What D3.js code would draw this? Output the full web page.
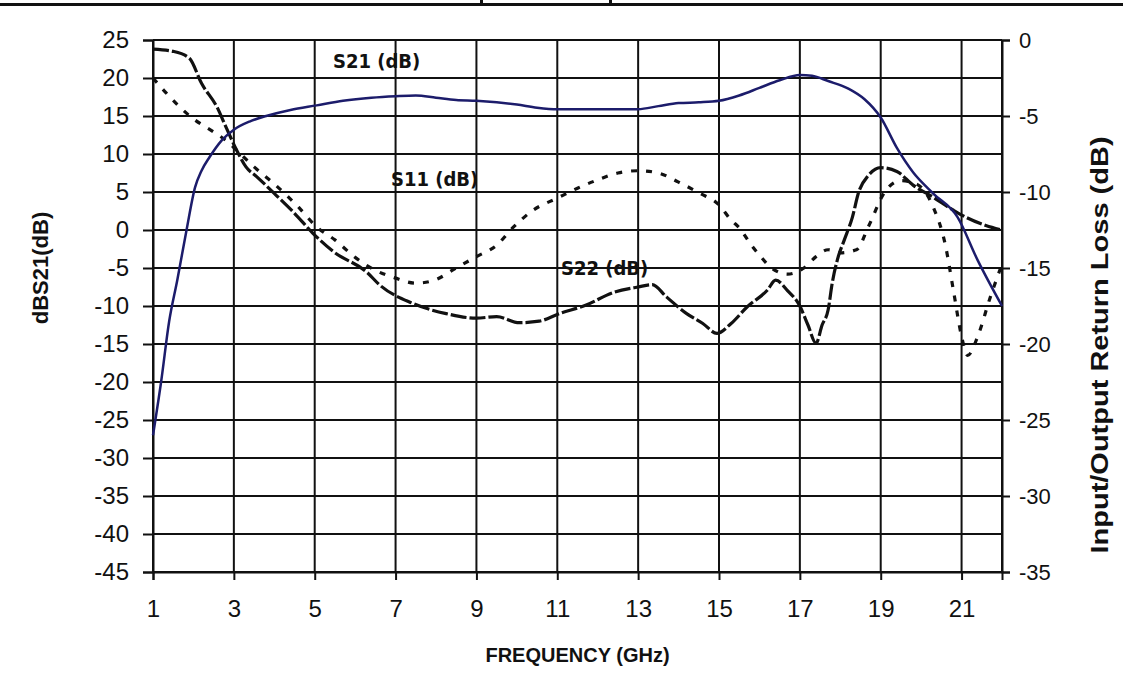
<!DOCTYPE html>
<html>
<head>
<meta charset="utf-8">
<script src="https://cdn.jsdelivr.net/npm/d3@7"></script>
<style>
  body { margin: 0; background: #fff; }
  svg { display: block; }
  .tick text { font-family: "Liberation Sans", Arial, sans-serif; fill: #111; }
  .lbl { font-family: "Liberation Sans", Arial, sans-serif; font-weight: bold; fill: #111; }
  .ann { font-family: "DejaVu Sans Condensed", "DejaVu Sans", sans-serif; font-weight: bold; fill: #111; }
</style>
</head>
<body>
<div id="chart"></div>
<script>
// frequency ticks / axis ticks
const xTicks = [1, 3, 5, 7, 9, 11, 13, 15, 17, 19, 21];
const yLeftTicks = [-45, -40, -35, -30, -25, -20, -15, -10, -5, 0, 5, 10, 15, 20, 25];
const yRightTicks = [-35, -30, -25, -20, -15, -10, -5, 0];

// S21 gain (left axis, dB)
const s21Freq = [1, 1.2, 1.4, 1.6, 1.83, 2.04, 2.2, 2.4, 2.7, 3, 3.4, 3.8, 4.4, 5.05, 5.7, 6.4, 7, 7.5, 8, 8.5, 9, 9.5, 10, 10.5, 11, 12, 13, 13.5, 14, 14.5, 15, 15.5, 16, 16.5, 17, 17.3, 17.7, 18.2, 18.6, 19, 19.4, 19.8, 20.3, 20.9, 21.4, 22];
const s21 = [-27, -20, -12, -6.6, 0, 5.6, 7.8, 9.6, 11.8, 13.2, 14.3, 15, 15.8, 16.4, 17, 17.4, 17.6, 17.7, 17.4, 17.1, 17, 16.8, 16.5, 16.1, 15.9, 15.9, 15.9, 16.3, 16.7, 16.8, 17, 17.7, 18.7, 19.7, 20.4, 20.3, 19.6, 18.6, 17.2, 14.8, 10.8, 7.6, 4.8, 1.7, -4, -10];

// S11 input return loss (right axis, dB)
const s11Freq = [1, 1.33, 1.98, 2.5, 2.8, 3.07, 3.5, 3.97, 4.6, 5.05, 5.5, 6, 6.5, 6.98, 7.5, 7.96, 8.5, 9, 9.5, 9.9, 10.4, 11, 11.5, 12, 12.5, 13, 13.5, 14, 14.5, 15, 15.3, 15.5, 15.8, 16, 16.3, 16.7, 17.1, 17.4, 17.7, 18, 18.4, 18.7, 19.1, 19.5, 19.9, 20.3, 20.6, 20.8, 21, 21.15, 21.4, 21.7, 22];
const s11 = [-2.5, -3.5, -5.15, -6.05, -6.6, -7.25, -8.35, -9.4, -11, -12.3, -13.15, -14.3, -15.15, -15.65, -16, -15.8, -15, -14.25, -13.5, -12.35, -11.2, -10.4, -9.75, -9.2, -8.75, -8.6, -8.75, -9.35, -10.05, -10.85, -11.85, -12.35, -13.5, -14.15, -15, -15.4, -15, -14.25, -13.8, -14, -13.8, -12.25, -10, -9.25, -9.5, -11, -13.5, -16.5, -19.5, -20.75, -19.5, -17, -14.75];

// S22 output return loss (right axis, dB)
const s22Freq = [1, 1.5, 1.9, 2.2, 2.6, 2.8, 3.07, 3.3, 3.57, 4.06, 4.5, 4.95, 5.45, 6.3, 6.6, 7.4, 8.25, 9, 9.5, 10.06, 10.55, 11.05, 11.7, 12.4, 13, 13.35, 13.7, 14.2, 14.6, 14.95, 15.3, 15.7, 16.2, 16.4, 16.7, 17, 17.2, 17.4, 17.55, 17.7, 17.8, 17.95, 18.1, 18.3, 18.45, 18.7, 19, 19.4, 19.8, 20.3, 20.8, 21.1, 21.6, 22];
const s22 = [-0.6, -0.75, -1.2, -2.85, -4.5, -5.7, -7.25, -8.35, -9, -10.25, -11.4, -12.7, -13.9, -15.3, -16.1, -17.3, -18, -18.3, -18.2, -18.6, -18.5, -18, -17.45, -16.6, -16.25, -16.1, -16.9, -18, -18.65, -19.3, -18.65, -17.55, -16.45, -15.8, -16.5, -17.5, -18.75, -19.95, -18.75, -17.75, -16, -14.25, -13.15, -11.65, -10.05, -8.9, -8.4, -8.65, -9.55, -10.35, -11.2, -11.65, -12.2, -12.5];

const W = 1123, H = 683;
const mLeft = 153, mRight = 1002, mTop = 40, mBottom = 572;

const svg = d3.select("#chart").append("svg")
    .attr("width", W)
    .attr("height", H);

const x = d3.scaleLinear().domain([1, 22]).range([mLeft, mRight]);
const yL = d3.scaleLinear().domain([-45, 25]).range([mBottom, mTop]);
const yR = d3.scaleLinear().domain([-35, 0]).range([mBottom, mTop]);

// cut-off title rule at the very top
svg.append("rect").attr("x", 0).attr("y", 3).attr("width", W).attr("height", 3).attr("fill", "#111");
svg.append("rect").attr("x", 480).attr("y", 0).attr("width", 3).attr("height", 5).attr("fill", "#111");
svg.append("rect").attr("x", 609).attr("y", 0).attr("width", 3).attr("height", 5).attr("fill", "#111");

// grid
const grid = svg.append("g").attr("stroke", "#111").attr("stroke-width", 2);
grid.selectAll(".h").data(yLeftTicks).enter().append("line")
    .attr("x1", mLeft).attr("x2", mRight)
    .attr("y1", d => yL(d)).attr("y2", d => yL(d));
grid.selectAll(".v").data(xTicks.concat([22])).enter().append("line")
    .attr("x1", d => x(d)).attr("x2", d => x(d))
    .attr("y1", mTop).attr("y2", mBottom);

// axes (plain hyphen minus like the original)
const fmt = d => String(d);
const axL = svg.append("g").attr("transform", `translate(${mLeft},0)`)
    .call(d3.axisLeft(yL).tickValues(yLeftTicks).tickFormat(fmt).tickSize(10).tickPadding(14));
const axR = svg.append("g").attr("transform", `translate(${mRight},0)`)
    .call(d3.axisRight(yR).tickValues(yRightTicks).tickFormat(fmt).tickSize(8).tickPadding(9));
const axB = svg.append("g").attr("transform", `translate(0,${mBottom})`)
    .call(d3.axisBottom(x).tickValues(xTicks).tickFormat(fmt).tickSize(8).tickPadding(20));

[axL, axR, axB].forEach(a => {
    a.select(".domain").attr("stroke", "#111").attr("stroke-width", 2);
    a.selectAll(".tick line").attr("stroke", "#111").attr("stroke-width", 2);
    a.selectAll(".tick text").style("font-size", "24px");
});
axR.selectAll(".tick text").style("font-size", "22px");

// series
const lineL = d3.line().x(d => x(d[0])).y(d => yL(d[1])).curve(d3.curveMonotoneX);
const lineR = d3.line().x(d => x(d[0])).y(d => yR(d[1])).curve(d3.curveMonotoneX);

svg.append("path")
    .datum(d3.zip(s11Freq, s11))
    .attr("fill", "none").attr("stroke", "#111").attr("stroke-width", 3.2)
    .attr("stroke-dasharray", "6,9")
    .attr("d", lineR);

svg.append("path")
    .datum(d3.zip(s22Freq, s22))
    .attr("fill", "none").attr("stroke", "#111").attr("stroke-width", 3.2)
    .attr("stroke-dasharray", "16,3")
    .attr("d", lineR);

svg.append("path")
    .datum(d3.zip(s21Freq, s21))
    .attr("fill", "none").attr("stroke", "#1c1c6b").attr("stroke-width", 2.5)
    .attr("d", lineL);

// in-plot annotations
svg.append("text").attr("class", "ann").attr("x", 333).attr("y", 68).style("font-size", "20px").text("S21 (dB)");
svg.append("text").attr("class", "ann").attr("x", 391).attr("y", 186).style("font-size", "20px").text("S11 (dB)");
svg.append("text").attr("class", "ann").attr("x", 561).attr("y", 275).style("font-size", "20px").text("S22 (dB)");

// axis titles
svg.append("text").attr("class", "lbl")
    .attr("transform", `translate(48,268) rotate(-90)`)
    .attr("text-anchor", "middle").style("font-size", "22px")
    .text("dBS21(dB)");
svg.append("text").attr("class", "lbl")
    .attr("transform", `translate(1108,345) scale(0.85,1) rotate(-90)`)
    .attr("text-anchor", "middle").style("font-size", "29px")
    .text("Input/Output Return Loss (dB)");
svg.append("text").attr("class", "lbl")
    .attr("x", (mLeft + mRight) / 2).attr("y", 662)
    .attr("text-anchor", "middle").style("font-size", "20px")
    .text("FREQUENCY (GHz)");
</script>
</body>
</html>
